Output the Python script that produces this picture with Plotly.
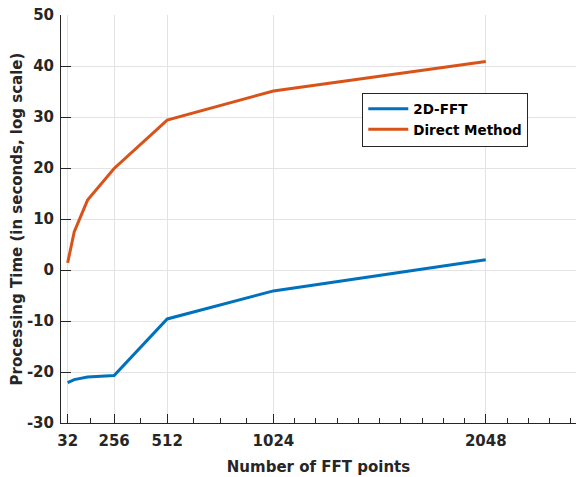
import plotly.graph_objects as go

# FFT sizes and measured processing times
fft_points = [32, 64, 128, 256, 512, 1024, 2048]
time_2dfft = [-22.1, -21.5, -21.0, -20.7, -9.6, -4.1, 2.0]
time_direct = [1.4, 7.5, 13.7, 19.9, 29.4, 35.1, 40.9]

x_ticks = [32, 256, 512, 1024, 2048]
x_minor = [144, 384, 640, 768, 896] + [1024 + 102.4 * k for k in range(1, 10)] + [2048 + 102.4 * k for k in range(1, 5)]
y_ticks = list(range(-30, 51, 10))
y_labels = [str(v) for v in y_ticks]  # plain hyphen for negatives

axis_color = "#262626"
font_family = "DejaVu Sans, Liberation Sans, Arial, sans-serif"

fig = go.Figure()
fig.add_trace(go.Scatter(x=fft_points, y=time_2dfft, mode="lines", name="2D-FFT",
                         line=dict(color="#0072BD", width=3)))
fig.add_trace(go.Scatter(x=fft_points, y=time_direct, mode="lines", name="Direct Method",
                         line=dict(color="#D95319", width=3)))

fig.update_layout(
    width=576, height=477,
    margin=dict(l=61, r=0, t=15, b=54),
    paper_bgcolor="white", plot_bgcolor="white",
    font=dict(family=font_family, color=axis_color, size=15, weight="bold"),
    showlegend=True,
    legend=dict(x=0.585, y=0.81, xanchor="left", yanchor="top",
                bgcolor="white", bordercolor=axis_color, borderwidth=1,
                font=dict(size=13.5, color="black", weight="bold"),
                tracegroupgap=0, itemwidth=40),
)

fig.update_xaxes(
    range=[0, 2483], tickmode="array", tickvals=x_ticks,
    ticktext=[str(v) for v in x_ticks],
    showgrid=True, gridcolor="#e3e3e3", gridwidth=1,
    showline=True, linecolor=axis_color, linewidth=1, mirror=False,
    ticks="inside", ticklen=9, tickcolor=axis_color, tickwidth=1,
    minor=dict(tickmode="array", tickvals=x_minor, ticks="inside", ticklen=5,
               tickcolor=axis_color, tickwidth=1, showgrid=False),
    zeroline=False, ticklabelstandoff=4,
    title=dict(text="Number of FFT points", standoff=12, font=dict(size=15, weight="bold")),
    tickfont=dict(size=15, weight="bold"),
)
fig.update_yaxes(
    range=[-30, 50], tickmode="array", tickvals=y_ticks, ticktext=y_labels,
    showgrid=True, gridcolor="#e3e3e3", gridwidth=1,
    showline=True, linecolor=axis_color, linewidth=1, mirror=False,
    ticks="inside", ticklen=10, tickcolor=axis_color, tickwidth=1,
    zeroline=False, ticklabelstandoff=3,
    title=dict(text="Processing Time (in seconds, log scale)", standoff=0, font=dict(size=15, weight="bold")),
    tickfont=dict(size=15, weight="bold"),
)

fig.write_html("out.html")
